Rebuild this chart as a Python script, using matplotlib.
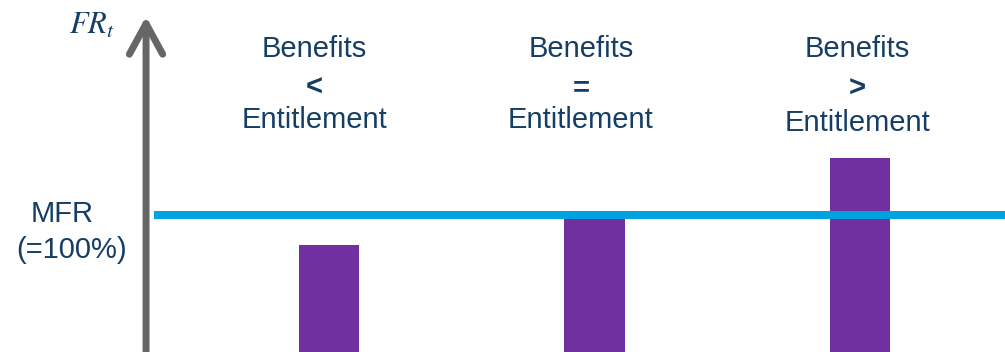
import matplotlib.pyplot as plt

# Данные: уровень фондирования (в % от MFR) для трёх случаев
cases = ["<", "=", ">"]
funding_ratio = [78, 100, 142]
mfr_level = 100

navy = "#153E64"
purple = "#7030A0"
blue = "#00A2E0"
grey = "#666666"

fig = plt.figure(figsize=(10.05, 3.52), dpi=100)
ax = fig.add_axes([0, 0, 1, 1])
ax.set_xlim(-0.239, 3.546)
ax.set_ylim(0, 257)
ax.axis("off")

pos = [1, 2, 3]
ax.bar(pos, funding_ratio, width=0.226, color=purple, zorder=2)

# Линия MFR
ax.hlines(mfr_level, 0.341, 3.546, color=blue, linewidth=5.8, zorder=3)

# Вертикальная стрелка FR_t
ax.annotate("", xy=(0.311, 245), xytext=(0.311, -2),
            arrowprops=dict(arrowstyle="->,head_length=1.1,head_width=0.6",
                            mutation_scale=20, color=grey, linewidth=5,
                            capstyle="round", joinstyle="round",
                            shrinkA=0, shrinkB=0), zorder=4)

font = {"family": "Liberation Sans", "size": 21, "color": navy}
ax.text(0.091, 0.928, r"$FR_t$", transform=ax.transAxes, ha="center", va="center",
        fontsize=22, color=navy, math_fontfamily="stix")
ax.text(0.062, 0.392, "MFR", transform=ax.transAxes, ha="center", va="center", fontdict=font)
ax.text(0.071, 0.29, "(=100%)", transform=ax.transAxes, ha="center", va="center", fontdict=font)

# Подписи над столбцами
label_x = [0.313, 0.578, 0.853]
sign_y = [0.750, 0.750, 0.747]
ent_y = [0.660, 0.660, 0.650]
for x, sign, sy, ey in zip(label_x, cases, sign_y, ent_y):
    ax.text(x, 0.860, "Benefits", transform=ax.transAxes, ha="center", va="center", fontdict=font)
    ax.text(x, sy, sign, transform=ax.transAxes, ha="center", va="center",
            fontdict=font, fontweight="bold")
    ax.text(x, ey, "Entitlement", transform=ax.transAxes, ha="center", va="center", fontdict=font)

fig.savefig("out.png", dpi=100)
